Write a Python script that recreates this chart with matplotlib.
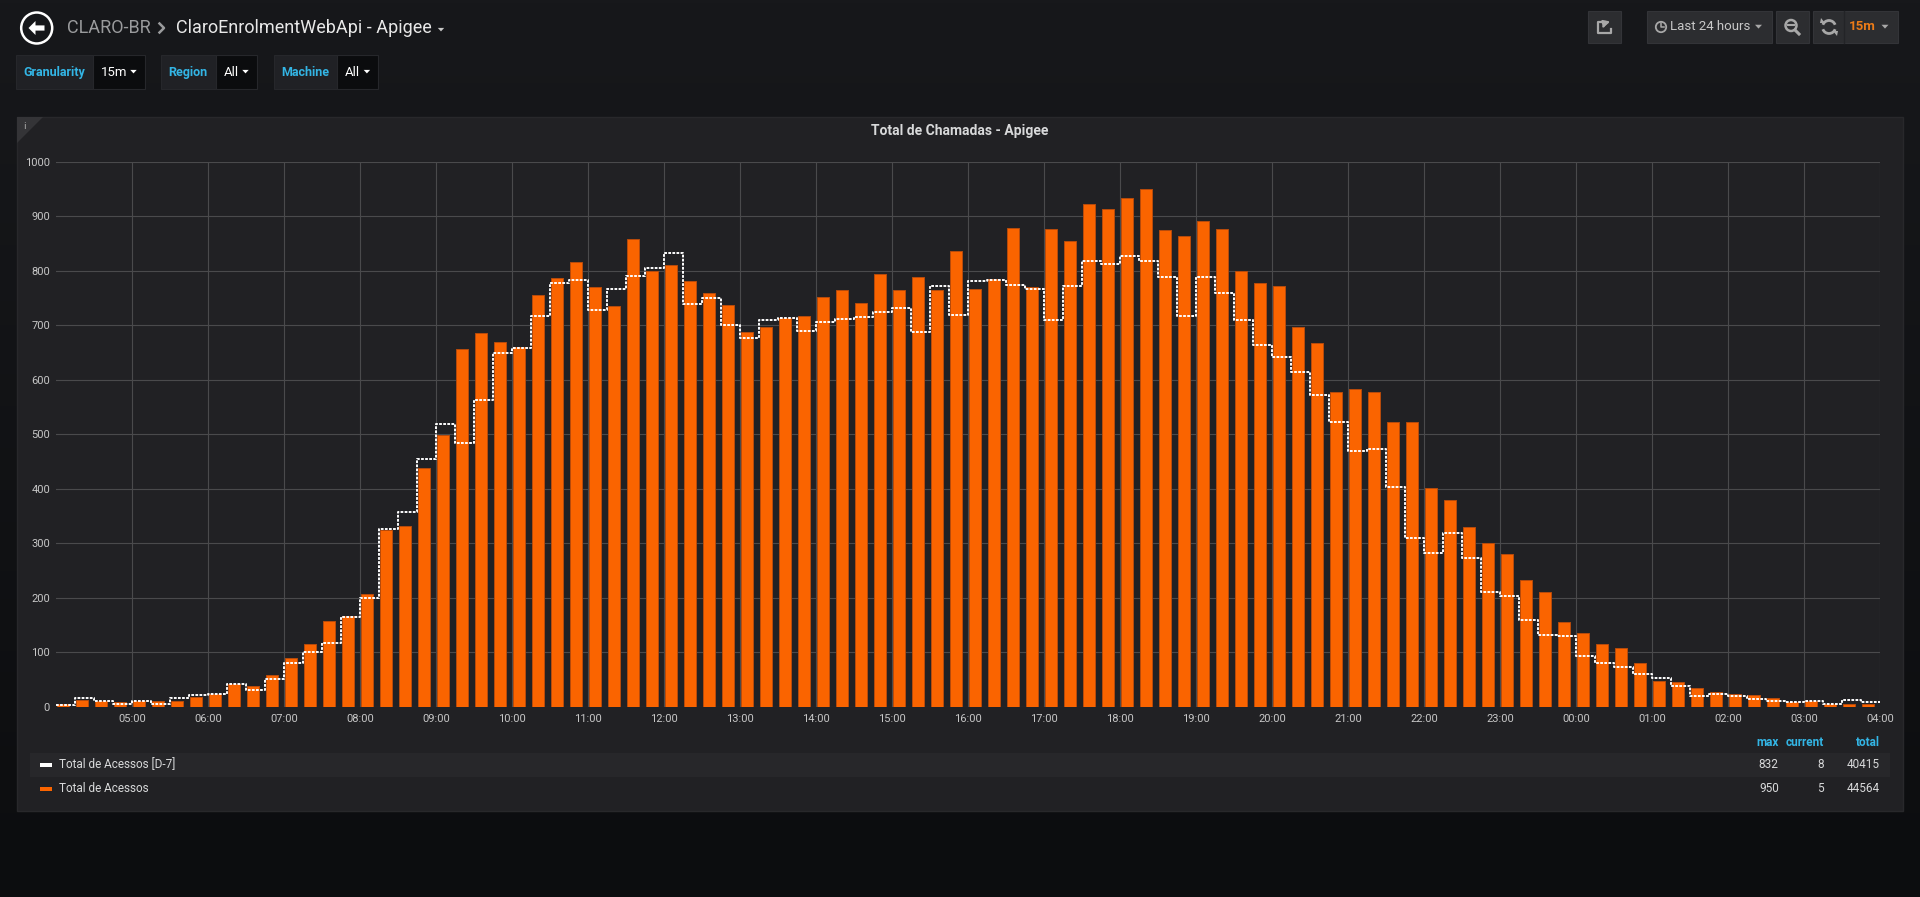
import matplotlib
matplotlib.use("Agg")
import matplotlib.pyplot as plt
from matplotlib.patches import Rectangle, Circle, Polygon, Arc
from matplotlib.colors import LinearSegmentedColormap
import numpy as np

plt.rcParams['font.family'] = ['Roboto', 'DejaVu Sans']

# 15 minute buckets, 04:00 -> 03:45 (next day)
acessos = [
    6, 13, 10, 8,  10, 11, 11, 18,  24, 41, 39, 58,  90, 115, 157, 167,
    207, 324, 331, 438,  498, 657, 685, 670,  660, 755, 786, 817,  771, 735, 858, 799,
    811, 781, 759, 737,  688, 696, 713, 717,  752, 764, 741, 794,  764, 788, 764, 836,
    766, 785, 878, 771,  877, 855, 922, 913,  933, 950, 875, 864,  891, 877, 799, 778,
    772, 696, 667, 578,  584, 578, 522, 523,  401, 379, 329, 301,  280, 232, 210, 155,
    135, 115, 107, 80,  48, 45, 34, 27,  23, 22, 16, 9,  11, 6, 5, 5,
]
acessos_d7 = [
    4, 16, 11, 5,  10, 5, 16, 22,  24, 41, 30, 51,  80, 100, 117, 165,
    200, 327, 358, 455,  519, 484, 563, 650,  658, 717, 778, 783,  728, 766, 790, 806,
    832, 739, 750, 700,  677, 709, 714, 690,  706, 711, 715, 724,  732, 687, 772, 719,
    782, 784, 774, 767,  710, 772, 818, 812,  827, 818, 789, 717,  788, 760, 709, 663,
    642, 614, 573, 523,  470, 473, 403, 310,  282, 318, 273, 210,  203, 160, 132, 129,
    93, 81, 73, 60,  52, 39, 20, 24,  20, 15, 11, 9,  11, 6, 12, 8,
]
hour_labels = ['05:00', '06:00', '07:00', '08:00', '09:00', '10:00', '11:00', '12:00',
               '13:00', '14:00', '15:00', '16:00', '17:00', '18:00', '19:00', '20:00',
               '21:00', '22:00', '23:00', '00:00', '01:00', '02:00', '03:00', '04:00']
series_names = ['Total de Acessos [D-7]', 'Total de Acessos']
legend_cols = ['max', 'current', 'total']
legend_vals = [['832', '8', '40415'], ['950', '5', '44564']]
variables = [('Granularity', '15m'), ('Region', 'All'), ('Machine', 'All')]

W, H = 1920, 897
ORANGE = '#fa6400'
BLUE = '#33b5e5'
TXT = '#d8d9da'

fig = plt.figure(figsize=(W / 100, H / 100), dpi=100)

# page background
bg = fig.add_axes([0, 0, 1, 1], zorder=0)
cm = LinearSegmentedColormap.from_list('bg', ['#17181b', '#0c0d0f'])
bg.imshow(np.linspace(0, 1, 256).reshape(-1, 1), aspect='auto', cmap=cm, extent=[0, 1, 0, 1])
bg.axis('off')

# overlay in pixel coords (y down)
ov = fig.add_axes([0, 0, 1, 1], zorder=1)
ov.set_xlim(0, W)
ov.set_ylim(H, 0)
ov.axis('off')


def caret(x, y, c, s=4.0):
    ov.add_patch(Polygon([(x - s, y - s * 0.5), (x + s, y - s * 0.5), (x, y + s * 0.6)],
                         closed=True, fc=c, lw=0))


# ---- header ----
ov.add_patch(Circle((36.7, 28), 15.5, fill=False, ec='white', lw=1.8))
ov.add_patch(Polygon([(28.5, 28), (35.5, 21), (35.5, 25.4), (44.5, 25.4), (44.5, 30.6),
                      (35.5, 30.6), (35.5, 35)], closed=True, fc='white', lw=0))
ov.text(67, 28, 'CLARO-BR', fontsize=13, color='#9a9b9d', va='center', ha='left')
ov.plot([159.5, 164, 159.5], [23.5, 28, 32.5], color='#9a9b9d', lw=1.8)
ov.text(175.5, 28, 'ClaroEnrolmentWebApi - Apigee', fontsize=13, color='#e8e8e8',
        va='center', ha='left')
caret(441, 29.5, '#c8c8c8', 3.2)

# template variables
var_boxes = [(16.3, 93, 145), (161, 215.5, 257), (273.5, 336.7, 378.4)]
for (name, val), (x0, x1, x2) in zip(variables, var_boxes):
    ov.add_patch(Rectangle((x0, 55), x1 - x0, 34.3, fc='#202125', ec='#26272b', lw=0.8))
    ov.add_patch(Rectangle((x1, 55), x2 - x1, 34.3, fc='#0b0c0e', ec='#26272b', lw=0.8))
    ov.text((x0 + x1) / 2, 72.5, name, fontsize=9, fontweight='bold', color=BLUE,
            ha='center', va='center')
    ov.text(x1 + 8, 72.5, val, fontsize=9.5, color='white', ha='left', va='center')
    caret(x2 - 11.5, 71.5, 'white', 3.2)

# top right buttons
BTN = '#2c2d30'
for bx0, bx1 in [(1588, 1621), (1647, 1772), (1776, 1809), (1813, 1898)]:
    ov.add_patch(Rectangle((bx0, 11), bx1 - bx0, 32, fc=BTN, ec='#333438', lw=0.8))
ov.plot([1844, 1844], [11, 43], color='#232427', lw=1)
# share icon
ov.plot([1605, 1598, 1598, 1611, 1611], [22, 22, 33, 33, 29], color='#a8a8a8', lw=1.6)
ov.annotate('', xy=(1613, 21), xytext=(1602, 29),
            arrowprops=dict(arrowstyle='-|>', color='#a8a8a8', lw=1.6,
                            connectionstyle='arc3,rad=-0.3', mutation_scale=9))
# clock + time range
ov.add_patch(Circle((1661, 27), 5.2, fill=False, ec='#a8a8a8', lw=1.3))
ov.plot([1661, 1661, 1664], [23.5, 27, 27], color='#a8a8a8', lw=1.1)
ov.text(1670, 27, 'Last 24 hours', fontsize=9.5, color='#c8c8c8', ha='left', va='center')
caret(1758.5, 26.5, '#a8a8a8', 3.5)
# zoom out icon
ov.add_patch(Circle((1791, 25.5), 5.5, fill=False, ec='#a8a8a8', lw=1.8))
ov.plot([1788, 1794], [25.5, 25.5], color='#a8a8a8', lw=1.5)
ov.plot([1795, 1799], [30, 34], color='#a8a8a8', lw=2.2)
# refresh icon
ov.add_patch(Arc((1829, 27), 13, 13, theta1=20, theta2=160, ec='#a8a8a8', lw=2))
ov.add_patch(Arc((1829, 27), 13, 13, theta1=200, theta2=340, ec='#a8a8a8', lw=2))
ov.add_patch(Polygon([(1833, 31), (1838, 31), (1837, 36)], fc='#a8a8a8', lw=0))
ov.add_patch(Polygon([(1825, 23), (1820, 23), (1821, 18)], fc='#a8a8a8', lw=0))
ov.text(1849, 27, '15m', fontsize=9.5, fontweight='bold', color='#eb7b18', ha='left', va='center')
caret(1885, 26.5, '#a8a8a8', 3.5)

# ---- panel ----
ov.add_patch(Rectangle((17, 117), 1886, 694, fc='#212124', ec='#28282b', lw=1))
ov.add_patch(Polygon([(17, 117), (43, 117), (17, 143)], closed=True, fc='#343437', lw=0))
ov.text(24, 126.5, 'i', fontsize=6.5, color='#b0b0b0', ha='center', va='center',
        family='DejaVu Sans')
ov.text(960, 131, 'Total de Chamadas - Apigee', fontsize=10, fontweight='bold',
        color=TXT, ha='center', va='center')

# legend table
ov.add_patch(Rectangle((30, 752.7), 1860, 24, fc='#27272a', lw=0))
col_x = [1778.7, 1824, 1880]
for cx, name in zip(col_x, legend_cols):
    ov.text(cx, 742.5, name, fontsize=8.5, fontweight='bold', color=BLUE, ha='right', va='center')
row_y = [764.5, 788.5]
swatch = ['white', ORANGE]
for ry, sname, sc, vals in zip(row_y, series_names, swatch, legend_vals):
    ov.add_patch(Rectangle((40, ry - 1.2), 12.3, 4, fc=sc, lw=0))
    ov.text(59.3, ry, sname, fontsize=8.5, color=TXT, ha='left', va='center')
    for cx, v in zip(col_x, vals):
        ov.text(cx, ry, v, fontsize=8.5, color=TXT, ha='right', va='center')

# ---- graph ----
left, right, top, bottom = 56, 1880, 161.8, 706.8
ax = fig.add_axes([left / W, 1 - bottom / H, (right - left) / W, (bottom - top) / H], zorder=2)
ax.patch.set_alpha(0)

x = np.arange(len(acessos))
ax.bar(x + 0.03, acessos, width=0.66, align='edge', color=ORANGE,
       edgecolor='#b84b0b', linewidth=0.7, zorder=2)
ax.step(np.arange(len(acessos_d7) + 1), acessos_d7 + [acessos_d7[-1]], where='post',
        color='white', lw=1.4, ls=(0, (1.4, 0.7)), zorder=3)

ax.set_xlim(0, 96)
ax.set_ylim(0, 1000)
ax.set_xticks(np.arange(4, 97, 4))
ax.set_xticklabels(hour_labels)
ax.set_yticks(np.arange(0, 1001, 100))
ax.set_axisbelow(True)
ax.grid(color='#4a4a4c', lw=0.8)
for s in ax.spines.values():
    s.set_visible(False)
ax.tick_params(axis='both', length=0, colors='#c7c7c7', labelsize=8)
ax.tick_params(axis='y', pad=4.3)
ax.tick_params(axis='x', pad=5.5)

fig.savefig('out.png', dpi=100, facecolor='#161719')
